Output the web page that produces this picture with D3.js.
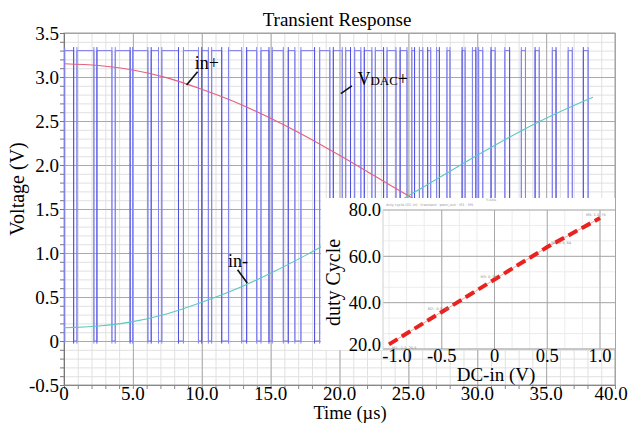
<!DOCTYPE html>
<html>
<head>
<meta charset="utf-8">
<script src="https://cdn.jsdelivr.net/npm/d3@7/dist/d3.min.js"></script>
<style>
  html, body { margin: 0; padding: 0; background: #fff; }
  svg { display: block; font-family: "Liberation Serif", "Times New Roman", serif; }
</style>
</head>
<body>
<div id="chart"></div>
<script>
// ---- data ----
// analog inputs (V) sampled every 2.5 us, last sample where the traces end
const timeUs  = [0, 2.5, 5, 7.5, 10, 12.5, 15, 17.5, 20, 22.5, 25, 27.5, 30, 32.5, 35, 37.5, 38.4];
const inPlus  = [3.15, 3.13, 3.08, 2.99, 2.86, 2.71, 2.53, 2.33, 2.11, 1.88, 1.65, 1.42, 1.19, 0.97, 0.77, 0.59, 0.53];
const inMinus = [0.15, 0.17, 0.22, 0.31, 0.44, 0.59, 0.77, 0.97, 1.19, 1.42, 1.65, 1.88, 2.11, 2.33, 2.53, 2.71, 2.77];

// VDAC+ digital output: level toggles at each of these times (us), starting low
const vdacEdges = [
  0.05,
  0.70, 0.94, 2.17, 2.39, 3.48, 3.72, 4.80, 4.98, 6.09, 6.33, 6.86, 7.10,
  8.31, 8.67, 9.76, 10.00, 10.48, 10.72, 11.45, 11.94, 12.90, 13.26,
  13.99, 14.30, 14.88, 15.12, 15.92, 16.28, 16.76, 17.20, 18.19, 18.56,
  19.30, 19.55, 20.20, 20.45, 20.80, 21.10, 21.55, 21.80,
  22.35, 22.60, 23.20, 23.45, 24.10, 24.40,
  24.90, 25.25, 25.45,
  25.80, 26.05, 26.40, 26.62, 27.05, 27.25, 27.80, 28.02, 28.90, 29.12,
  29.65, 29.90, 30.10, 30.40, 31.00, 31.30, 32.00, 32.35, 33.20, 33.50,
  34.20, 34.50, 35.45, 35.72, 36.60, 36.90, 37.70, 38.05
];
const vdacLevels = [0, 3.3];       // low / high
const vdacRinging = [-0.03, 3.34]; // small overshoot on each edge
const vdacEndUs = 38.5;

// main axes ticks
const timeTicks = [0, 5, 10, 15, 20, 25, 30, 35, 40];
const voltTicks = [-0.5, 0, 0.5, 1.0, 1.5, 2.0, 2.5, 3.0, 3.5];

// inset: duty cycle vs DC input
const dcIn = [-1.0, -0.5, 0, 0.5, 1.0];
const dutyCycle = [22, 36, 50, 64, 76.5];
const dutyMarks = ['M1: -1.0, 20.5', 'M2: -0.5, 36', 'M3: 0, 50', 'M4: 0.5, 64', 'M5: 1.0, 76'];
const dcTicks = [-1.0, -0.5, 0, 0.5, 1.0];
const dutyTicks = [20, 40, 60, 80];

// ---- drawing ----
const width = 629, height = 423;
const svg = d3.select('#chart').append('svg')
  .attr('width', width)
  .attr('height', height);

const x = d3.scaleLinear().domain([0, 40]).range([64, 615]);
const y = d3.scaleLinear().domain([-0.5, 3.5]).range([385, 33]);
const plotH = y(-0.5) - y(3.5);
const plotW = x(40) - x(0);

const fmt1 = d => d === 0 ? '0' : d.toFixed(1);

// gridlines
function gridX(g, values, color) {
  g.append('g')
    .attr('transform', `translate(0,${y(-0.5)})`)
    .call(d3.axisBottom(x).tickValues(values).tickSize(-plotH).tickFormat(''))
    .call(s => s.select('.domain').remove())
    .call(s => s.selectAll('line').attr('stroke', color).attr('stroke-width', 1));
}
function gridY(g, values, color) {
  g.append('g')
    .attr('transform', `translate(${x(0)},0)`)
    .call(d3.axisLeft(y).tickValues(values).tickSize(-plotW).tickFormat(''))
    .call(s => s.select('.domain').remove())
    .call(s => s.selectAll('line').attr('stroke', color).attr('stroke-width', 1));
}
const grid = svg.append('g');
gridX(grid, d3.range(0, 41, 1), '#e0e0e0');
gridY(grid, d3.range(-5, 36, 1).map(d => d / 10), '#e0e0e0');
gridX(grid, timeTicks, '#a9a9a9');
gridY(grid, voltTicks, '#a9a9a9');

// frame + minor ticks on the axes
svg.append('rect')
  .attr('x', x(0)).attr('y', y(3.5))
  .attr('width', plotW).attr('height', plotH)
  .attr('fill', 'none').attr('stroke', '#a0a0a0');

svg.append('g')
  .attr('transform', `translate(${x(0)},0)`)
  .call(d3.axisLeft(y).tickValues(d3.range(-5, 36, 1).map(d => d / 10)).tickSize(4).tickFormat(''))
  .call(s => s.selectAll('line,path').attr('stroke', '#777'));
svg.append('g')
  .attr('transform', `translate(0,${y(-0.5)})`)
  .call(d3.axisBottom(x).tickValues(d3.range(0, 41, 1)).tickSize(4).tickFormat(''))
  .call(s => s.selectAll('line,path').attr('stroke', '#888'));

// tick labels
svg.append('g')
  .selectAll('text')
  .data(voltTicks)
  .join('text')
  .attr('x', x(0) - 5)
  .attr('y', d => y(d))
  .attr('dy', '0.36em')
  .attr('text-anchor', 'end')
  .style('font-size', '19px')
  .text(fmt1);

svg.append('g')
  .selectAll('text')
  .data(timeTicks)
  .join('text')
  .attr('x', d => Math.min(x(d), width - 18))
  .attr('y', 400)
  .attr('text-anchor', 'middle')
  .style('font-size', '19px')
  .text(fmt1);

// titles
svg.append('text')
  .attr('x', 337).attr('y', 26)
  .attr('text-anchor', 'middle')
  .style('font-size', '19px')
  .text('Transient Response');

svg.append('text')
  .attr('transform', `translate(24,${(y(3.5) + y(-0.5)) / 2 - 20}) rotate(-90)`)
  .attr('text-anchor', 'middle')
  .style('font-size', '20px')
  .text('Voltage (V)');

svg.append('text')
  .attr('x', 350).attr('y', 419)
  .attr('text-anchor', 'middle')
  .style('font-size', '18.5px')
  .text('Time (µs)');

// traces, clipped to the plot
svg.append('clipPath').attr('id', 'plotClip')
  .append('rect')
  .attr('x', x(0)).attr('y', y(3.5))
  .attr('width', plotW).attr('height', plotH);
const traces = svg.append('g').attr('clip-path', 'url(#plotClip)');

// VDAC+ square wave
const vdacPts = [];
let lvl = 0;
vdacPts.push([0, vdacLevels[lvl]]);
vdacEdges.forEach(t => {
  vdacPts.push([t, vdacLevels[lvl]]);
  lvl = 1 - lvl;
  vdacPts.push([t, vdacLevels[lvl]]);
});
vdacPts.push([vdacEndUs, vdacLevels[lvl]]);

traces.append('path')
  .datum(vdacPts)
  .attr('fill', 'none')
  .attr('stroke', '#7c7cec')
  .attr('stroke-width', 1)
  .attr('d', d3.line().x(d => x(d[0])).y(d => y(d[1])));

// edges with their small ringing
traces.append('g')
  .selectAll('line')
  .data(vdacEdges)
  .join('line')
  .attr('x1', d => x(d)).attr('x2', d => x(d))
  .attr('y1', y(vdacRinging[0])).attr('y2', y(vdacRinging[1]))
  .attr('stroke', (d, i) => i % 3 === 1 ? '#5050de' : '#8484ee')
  .attr('stroke-width', 1);

const analogLine = d3.line().curve(d3.curveMonotoneX);
traces.append('path')
  .datum(timeUs.map((t, i) => [x(t), y(inPlus[i])]))
  .attr('fill', 'none')
  .attr('stroke', '#e4607a')
  .attr('stroke-width', 1.1)
  .attr('d', analogLine);
traces.append('path')
  .datum(timeUs.map((t, i) => [x(t), y(inMinus[i])]))
  .attr('fill', 'none')
  .attr('stroke', '#5cc8c4')
  .attr('stroke-width', 1.1)
  .attr('d', analogLine);

// trace annotations (positions in data units)
const notes = [
  { label: 'in+', tx: 9.5, ty: 3.09, from: [9.7, 3.06], to: [8.9, 2.91] },
  { label: 'in-', tx: 11.9, ty: 0.84, from: [12.6, 0.81], to: [13.3, 0.66] },
  { label: 'VDAC', tx: 21.3, ty: 2.91, from: [20.9, 2.90], to: [20.1, 2.81] }
];
const noteG = svg.append('g');
notes.forEach(n => {
  noteG.append('line')
    .attr('x1', x(n.from[0])).attr('y1', y(n.from[1]))
    .attr('x2', x(n.to[0])).attr('y2', y(n.to[1]))
    .attr('stroke', '#111').attr('stroke-width', 1.6);
  const t = noteG.append('text')
    .attr('x', x(n.tx)).attr('y', y(n.ty))
    .style('font-size', '18px');
  if (n.label === 'VDAC') {
    t.append('tspan').text('V');
    t.append('tspan').style('font-size', '13px').text('DAC');
    t.append('tspan').text('+');
  } else {
    t.text(n.label);
  }
});

// ---- inset: duty cycle ----
const xi = d3.scaleLinear().domain([-1, 1]).range([389, 600]);
const yi = d3.scaleLinear().domain([20, 80]).range([349, 210]);
const inset = svg.append('g');

inset.append('rect')
  .attr('x', 321).attr('y', 198)
  .attr('width', x(40) - 321).attr('height', yi(20) - 198 + 1)
  .attr('fill', '#fff');

inset.append('g')
  .selectAll('line')
  .data(d3.range(0, 13).map(i => -1 + i / 6))
  .join('line')
  .attr('x1', d => xi(d)).attr('x2', d => xi(d))
  .attr('y1', yi(80)).attr('y2', yi(20))
  .attr('stroke', '#ececec');
inset.append('g')
  .selectAll('line')
  .data(d3.range(0, 10).map(i => 20 + i * 20 / 3))
  .join('line')
  .attr('x1', 383).attr('x2', x(40))
  .attr('y1', d => yi(d)).attr('y2', d => yi(d))
  .attr('stroke', '#ececec');

inset.append('g')
  .selectAll('line')
  .data(dcTicks.slice(1))
  .join('line')
  .attr('x1', d => xi(d)).attr('x2', d => xi(d))
  .attr('y1', yi(80)).attr('y2', yi(20))
  .attr('stroke', '#a8a8a8');
inset.append('g')
  .selectAll('line')
  .data(dutyTicks)
  .join('line')
  .attr('x1', 383).attr('x2', x(40))
  .attr('y1', d => yi(d)).attr('y2', d => yi(d))
  .attr('stroke', d => d === 20 ? '#999' : '#a8a8a8');
inset.append('line')
  .attr('x1', 383).attr('x2', 383)
  .attr('y1', yi(80)).attr('y2', yi(20))
  .attr('stroke', '#d0d0d0');

// tiny header strings of the original inset
inset.append('text')
  .attr('x', 386).attr('y', yi(80) - 4)
  .attr('fill', '#9a9a9a')
  .style('font-size', '3.5px')
  .style('font-family', 'DejaVu Sans, sans-serif')
  .text('duty cycle  (DC-in)  ·  transient  ·  pwm_out  ·  M1 - M5');
inset.append('text')
  .attr('x', 486).attr('y', 201)
  .attr('fill', '#9a9a9a')
  .style('font-size', '3.5px')
  .style('font-family', 'DejaVu Sans, sans-serif')
  .text('Y-Axis');

const dutyPts = dcIn.map((v, i) => [xi(v), yi(dutyCycle[i])]);
inset.append('path')
  .datum(dutyPts)
  .attr('fill', 'none')
  .attr('stroke', '#f3a2a2')
  .attr('stroke-width', 1)
  .attr('d', d3.line());
inset.append('path')
  .datum(dutyPts)
  .attr('fill', 'none')
  .attr('stroke', '#e8221e')
  .attr('stroke-width', 4)
  .attr('stroke-dasharray', '10,5')
  .attr('d', d3.line());

inset.append('g')
  .selectAll('text')
  .data(dcIn)
  .join('text')
  .attr('x', (d, i) => xi(d) + (i === 0 ? 3 : i === 4 ? -14 : i === 3 ? 4 : -14))
  .attr('y', (d, i) => yi(dutyCycle[i]) + (i === 0 ? 5 : i === 3 ? -3 : -2))
  .attr('fill', '#8a8a8a')
  .style('font-size', '3.5px')
  .style('font-family', 'DejaVu Sans, sans-serif')
  .text((d, i) => dutyMarks[i]);

inset.append('g')
  .selectAll('text')
  .data(dutyTicks)
  .join('text')
  .attr('x', 381)
  .attr('y', d => yi(d) - (d === 20 ? 4 : 0))
  .attr('dy', '0.34em')
  .attr('text-anchor', 'end')
  .style('font-size', '18.5px')
  .text(d => d.toFixed(1));

inset.append('g')
  .selectAll('text')
  .data(dcTicks)
  .join('text')
  .attr('x', (d, i) => xi(d) + (i === 0 ? 8 : 0))
  .attr('y', 362)
  .attr('text-anchor', 'middle')
  .style('font-size', '18.5px')
  .text(fmt1);

inset.append('text')
  .attr('transform', `translate(340,${(yi(20) + yi(80)) / 2 + 3}) rotate(-90)`)
  .attr('text-anchor', 'middle')
  .style('font-size', '20px')
  .text('duty Cycle');

inset.append('text')
  .attr('x', 496).attr('y', 381)
  .attr('text-anchor', 'middle')
  .style('font-size', '19px')
  .text('DC-in (V)');
</script>
</body>
</html>
